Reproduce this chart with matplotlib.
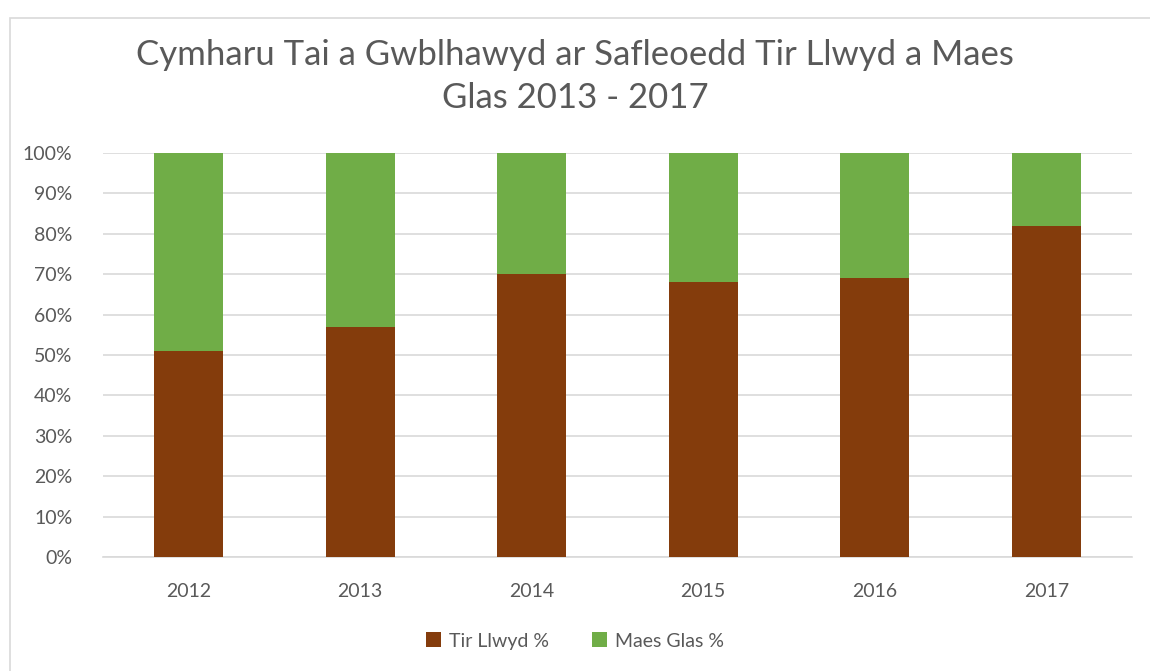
import numpy as np
import matplotlib.pyplot as plt
from matplotlib.patches import Rectangle

years = ["2012", "2013", "2014", "2015", "2016", "2017"]
tir_llwyd = [51, 57, 70, 68, 69, 82]
maes_glas = [49, 43, 30, 32, 31, 18]

brown = "#843C0C"
green = "#70AD47"
grey_txt = "#595959"

plt.rcParams["font.family"] = ["Lato", "DejaVu Sans"]

fig = plt.figure(figsize=(11.5, 6.71), dpi=100)
# chart border
fig.patches.append(Rectangle((10 / 1150, -0.01), 1.2, (671 - 18) / 671 + 0.01,
                             transform=fig.transFigure, fill=False,
                             edgecolor="#D9D9D9", linewidth=1.2))

ax = fig.add_axes([103 / 1150, (671 - 557) / 671, (1132 - 103) / 1150, (557 - 153) / 671])
x = np.arange(len(years))
ax.bar(x, tir_llwyd, width=0.4, color=brown, label="Tir Llwyd %", zorder=3)
ax.bar(x, maes_glas, width=0.4, bottom=tir_llwyd, color=green, label="Maes Glas %", zorder=3)

ax.set_xlim(-0.5, len(years) - 0.5)
ax.set_ylim(0, 100)
ax.set_yticks(range(0, 101, 10))
ax.set_yticklabels([f"{v}%" for v in range(0, 101, 10)])
ax.set_xticks(x)
ax.set_xticklabels(years)
ax.yaxis.grid(True, color="#D9D9D9", linewidth=1.2, zorder=0)
ax.set_axisbelow(True)
for s in ["top", "right", "left"]:
    ax.spines[s].set_visible(False)
ax.spines["bottom"].set_color("#D9D9D9")
ax.spines["bottom"].set_linewidth(1.2)
ax.tick_params(axis="both", length=0, labelsize=14, colors=grey_txt)
ax.tick_params(axis="y", pad=22)
ax.tick_params(axis="x", pad=19)

fig.text(0.5, 1 - 55 / 671, "Cymharu Tai a Gwblhawyd ar Safleoedd Tir Llwyd a Maes",
         ha="center", va="center", fontsize=25, color=grey_txt)
fig.text(0.5, 1 - 98 / 671, "Glas 2013 - 2017",
         ha="center", va="center", fontsize=25, color=grey_txt)

fig.legend(loc="center", bbox_to_anchor=(0.5, 1 - 641 / 671), ncol=2, frameon=False,
           fontsize=14, labelcolor=grey_txt, handlelength=0.8, handleheight=0.8,
           columnspacing=2.2, handletextpad=0.4)

fig.savefig("out.png", dpi=100)
